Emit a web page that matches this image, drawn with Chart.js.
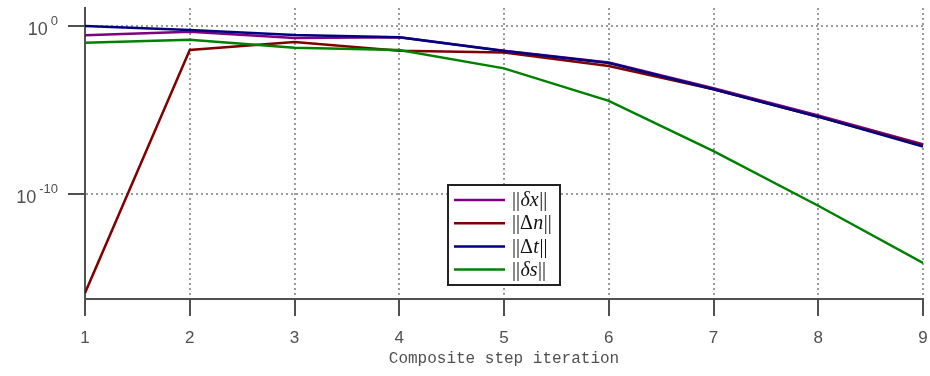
<!DOCTYPE html>
<html lang="en">
<head>
<meta charset="UTF-8">
<title>Composite step iteration</title>
<style>
  html, body { margin: 0; padding: 0; background: #fff; }
  #wrap { width: 930px; height: 376px; }
</style>
</head>
<body>
<div id="wrap"><canvas id="myChart" width="930" height="376"></canvas></div>
<script src="https://cdn.jsdelivr.net/npm/chart.js"></script>
<script>
// iteration numbers on the x axis
const iterations = [1, 2, 3, 4, 5, 6, 7, 8, 9];

// norms
const deltaX = [0.28, 0.46, 0.19, 0.21, 0.034, 6.8e-3, 2.0e-4, 4.7e-6, 9.1e-8];
const deltaN = [1.3e-16, 0.037, 0.11, 0.034, 0.026, 4.2e-3, 1.7e-4, 4.0e-6, 7.9e-8];
const deltaT = [1.0, 0.58, 0.29, 0.21, 0.032, 6.3e-3, 1.7e-4, 4.0e-6, 6.6e-8];
const deltaS = [0.10, 0.15, 0.051, 0.037, 3.0e-3, 3.5e-5, 3.6e-8, 2.0e-11, 7.9e-15];

// y tick values and their exponent labels
const yTicks = [1e-10, 1];
const yTickExp = ['-10', '0'];

// legend labels: pieces of [text, italic]
const legendParts = [
  [['||', false], ['δx', true], ['||', false]],
  [['||Δ', false], ['n', true], ['||', false]],
  [['||Δ', false], ['t', true], ['||', false]],
  [['||', false], ['δs', true], ['||', false]]
];

const colors = ['#800080', '#800000', '#000080', '#008000'];
const axisColor = '#505050';

const toPoints = arr => arr.map((v, i) => ({ x: iterations[i], y: v }));

// y tick labels drawn as 10 with a raised exponent
const yLabelPlugin = {
  id: 'yLabels',
  afterDraw(chart) {
    const ctx = chart.ctx;
    const sc = chart.scales.y;
    ctx.save();
    ctx.fillStyle = axisColor;
    ctx.textBaseline = 'alphabetic';
    ctx.textAlign = 'right';
    sc.ticks.forEach((t, i) => {
      const y = sc.getPixelForValue(t.value);
      const right = 58;
      ctx.font = '13px "Liberation Sans", Arial, sans-serif';
      const ew = ctx.measureText(yTickExp[i]).width;
      ctx.fillText(yTickExp[i], right, y - 1);
      ctx.font = '18px "Liberation Sans", Arial, sans-serif';
      ctx.fillText('10', right - ew - 3, y + 9);
    });
    ctx.restore();
  }
};

// boxed legend in the middle of the plot
const legendPlugin = {
  id: 'boxLegend',
  afterDatasetsDraw(chart) {
    const ctx = chart.ctx;
    const bx = 448, by = 185, bw = 112, bh = 100;
    ctx.save();
    ctx.fillStyle = '#fff';
    ctx.fillRect(bx, by, bw, bh);
    ctx.lineWidth = 2;
    ctx.strokeStyle = '#222';
    ctx.strokeRect(bx, by, bw, bh);
    chart.data.datasets.forEach((ds, i) => {
      const y = 200 + i * 23.2;
      ctx.strokeStyle = ds.borderColor;
      ctx.lineWidth = 2.5;
      ctx.beginPath();
      ctx.moveTo(454, y);
      ctx.lineTo(505, y);
      ctx.stroke();
      let x = 512;
      ctx.fillStyle = '#111';
      ctx.textBaseline = 'middle';
      ctx.textAlign = 'left';
      legendParts[i].forEach(([txt, it]) => {
        ctx.font = (it ? 'italic ' : '') + '20px "Liberation Serif", "DejaVu Serif", serif';
        ctx.fillText(txt, x, y + 1);
        x += ctx.measureText(txt).width + 0.5;
      });
    });
    ctx.restore();
  }
};

const makeSet = (label, data, i) => ({
  label: label,
  data: toPoints(data),
  borderColor: colors[i],
  backgroundColor: colors[i],
  borderWidth: 2.5,
  pointRadius: 0,
  tension: 0,
  fill: false,
  order: 4 - i
});

const gridOpts = {
  color: '#9c9c9c',
  lineWidth: 2,
  tickLength: 17,
  tickColor: axisColor,
  tickWidth: 2
};

const ctx = document.getElementById('myChart').getContext('2d');
const myChart = new Chart(ctx, {
  type: 'line',
  data: {
    datasets: [
      makeSet('||δx||', deltaX, 0),
      makeSet('||Δn||', deltaN, 1),
      makeSet('||Δt||', deltaT, 2),
      makeSet('||δs||', deltaS, 3)
    ]
  },
  options: {
    responsive: false,
    animation: false,
    devicePixelRatio: 1,
    layout: { padding: { top: 8, right: 0, left: 0, bottom: 0 } },
    plugins: {
      legend: { display: false },
      tooltip: { enabled: false }
    },
    scales: {
      x: {
        type: 'linear',
        min: 1,
        max: 9,
        ticks: {
          stepSize: 1,
          color: axisColor,
          padding: 12,
          font: { family: '"Liberation Sans", Arial, sans-serif', size: 17 }
        },
        grid: gridOpts,
        border: { color: axisColor, width: 2, dash: [2, 3] },
        title: {
          display: true,
          text: 'Composite step iteration',
          color: axisColor,
          padding: { top: 4, bottom: 8 },
          font: { family: '"Liberation Mono", "Courier New", monospace', size: 16 }
        },
        afterFit(scale) {
          scale.height = 77;
          scale.paddingRight = 7;
        }
      },
      y: {
        type: 'logarithmic',
        min: Math.pow(10, -16.25),
        max: Math.pow(10, 1.07),
        afterBuildTicks(scale) {
          scale.ticks = yTicks.map(v => ({ value: v }));
        },
        ticks: { display: false },
        grid: gridOpts,
        border: { color: axisColor, width: 2, dash: [2, 3] },
        afterFit(scale) { scale.width = 85; }
      }
    }
  },
  plugins: [yLabelPlugin, legendPlugin]
});
</script>
</body>
</html>
